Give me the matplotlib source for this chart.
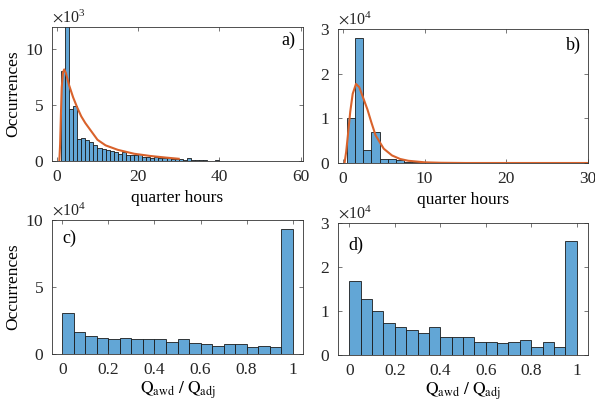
import numpy as np
import matplotlib
matplotlib.use("Agg")
from matplotlib import pyplot as plt
from matplotlib.ticker import ScalarFormatter

plt.rcParams['font.family'] = ['Liberation Serif', 'DejaVu Serif']
plt.rcParams['mathtext.fontset'] = 'stix'
plt.rcParams['font.size'] = 12

# panel a: durations in quarter hours, bins of width 1 starting at 1
a_left = np.arange(1, 40)
a_counts = [8100, 15000, 4700, 4900, 2000, 2100, 1900, 1700, 1400, 1200,
            1100, 1000, 900, 800, 650, 800, 550, 500, 500, 600,
            400, 350, 300, 400, 300, 300, 250, 200, 150, 150,
            100, 300, 100, 80, 60, 50, 20, 10, 50]
a_fit_x = [0.6, 0.8, 1.0, 1.2, 1.5, 1.8, 2.2, 3.0, 4.0, 5.0, 6.0, 7.0, 8.0,
           10.0, 12.0, 15.0, 19.0, 23.0, 27.0, 30.0]
a_fit_y = [0, 1500, 4200, 6600, 7900, 8200, 7900, 6800, 5700, 4800, 4000,
           3400, 2900, 1900, 1400, 1000, 650, 450, 300, 200]

# panel b: bins of width 1 starting at 0.5
b_left = np.arange(0.5, 20.5, 1.0)
b_counts = [10000, 28000, 2800, 7000, 1000, 800, 600, 300, 200, 150,
            100, 100, 100, 100, 200, 150, 50, 50, 30, 20]
b_fit_x = [0.2, 0.4, 0.6, 0.9, 1.2, 1.6, 2.0, 2.5, 3.0, 3.5, 4.0, 5.0,
           6.0, 7.0, 8.0, 10.0, 12.0, 15.0, 30.0]
b_fit_y = [0, 2500, 6000, 11500, 15500, 17700, 17000, 14500, 12000, 9000,
           6200, 3200, 1700, 900, 500, 150, 50, 0, 0]

# panels c and d: ratio Qawd/Qadj, 20 bins of 0.05
q_left = np.arange(0, 1, 0.05)
c_counts = [30400, 16200, 13400, 12200, 10900, 12200, 11400, 11400, 11400, 8700,
            11400, 8000, 7200, 6200, 7500, 7500, 5200, 6000, 5200, 93300]
d_counts = [16800, 12700, 10100, 7200, 6400, 5700, 4900, 6400, 4200, 4200,
            4200, 3000, 3000, 2700, 3000, 3400, 1900, 2900, 1900, 25800]

bar_col = '#62a6d6'
fit_col = '#d9622b'

fig = plt.figure(figsize=(5.95, 4.01), dpi=100)
axa = fig.add_axes([52/595, 240/401, 251/595, 134/401])
axb = fig.add_axes([338/595, 238/401, 250/595, 134/401])
axc = fig.add_axes([52/595, 47/401, 251/595, 134/401])
axd = fig.add_axes([338/595, 46/401, 250/595, 132/401])

axa.bar(a_left, a_counts, width=1, align='edge', color=bar_col, edgecolor='#1a1a1a', linewidth=0.6)
axa.plot(a_fit_x, a_fit_y, color=fit_col, lw=1.5)
axb.bar(b_left, b_counts, width=1, align='edge', color=bar_col, edgecolor='#1a1a1a', linewidth=0.6)
axb.plot(b_fit_x, b_fit_y, color=fit_col, lw=1.5)
axc.bar(q_left, c_counts, width=0.05, align='edge', color=bar_col, edgecolor='#1a1a1a', linewidth=0.6)
axd.bar(q_left, d_counts, width=0.05, align='edge', color=bar_col, edgecolor='#1a1a1a', linewidth=0.6)

axa.set_xlim(-1.2, 60.6)
axa.set_ylim(0, 12000)
axa.set_xticks([0, 20, 40, 60])
axa.set_yticks([0, 5000, 10000])
axb.set_xlim(-0.6, 29.8)
axb.set_ylim(0, 30000)
axb.set_xticks([0, 10, 20, 30])
axb.set_yticks([0, 10000, 20000, 30000])
axc.set_xlim(-0.045, 1.045)
axc.set_ylim(0, 100000)
axc.set_yticks([0, 50000, 100000])
axd.set_xlim(-0.05, 1.05)
axd.set_ylim(0, 30000)
axd.set_yticks([0, 10000, 20000, 30000])
for ax in (axc, axd):
    ax.set_xticks([0, 0.2, 0.4, 0.6, 0.8, 1])
    ax.set_xticklabels(['0', '0.2', '0.4', '0.6', '0.8', '1'])

for ax, p in ((axa, 3), (axb, 4), (axc, 4), (axd, 4)):
    fmt = ScalarFormatter(useMathText=True)
    fmt.set_powerlimits((p, p))
    ax.yaxis.set_major_formatter(fmt)
    ax.yaxis.get_offset_text().set_fontsize(11.5)
    ax.yaxis.get_offset_text().set_color('#333333')
    ax.tick_params(direction='in', top=True, right=True, length=3, width=0.5,
                   color='#404040', labelsize=12.5, labelcolor='#262626', pad=6)
    for s in ax.spines.values():
        s.set_linewidth(0.6)
        s.set_color('#333333')

axa.set_xlabel('quarter hours', labelpad=3, fontsize=12.5)
axb.set_xlabel('quarter hours', labelpad=3, fontsize=12.5)
axc.set_xlabel(r'$\mathrm{Q_{awd}\ /\ Q_{adj}}$', labelpad=1, fontsize=12.5)
axd.set_xlabel(r'$\mathrm{Q_{awd}\ /\ Q_{adj}}$', labelpad=1, fontsize=12.5)
axa.set_ylabel('Occurrences', labelpad=3, fontsize=12.5)
axc.set_ylabel('Occurrences', labelpad=3, fontsize=12.5)

axa.text(0.97, 0.9, 'a)', transform=axa.transAxes, ha='right', va='center', fontsize=13)
axb.text(0.97, 0.88, 'b)', transform=axb.transAxes, ha='right', va='center', fontsize=13)
axc.text(0.04, 0.86, 'c)', transform=axc.transAxes, ha='left', va='center', fontsize=13)
axd.text(0.04, 0.83, 'd)', transform=axd.transAxes, ha='left', va='center', fontsize=13)

fig.savefig('out.png', dpi=100)
